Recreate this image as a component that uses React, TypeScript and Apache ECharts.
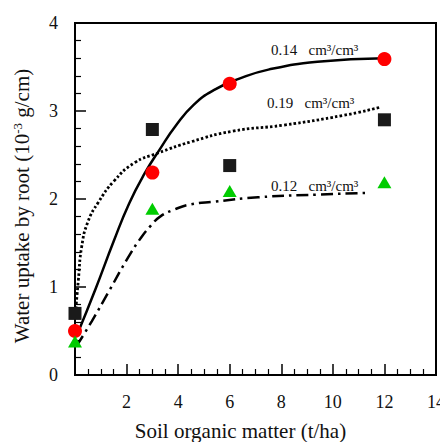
import React, { useEffect, useRef } from "react";
import * as echarts from "echarts";

// measured points
const xPts = [0, 3, 6, 12];
const red014 = [0.5, 2.3, 3.31, 3.59];
const sq019 = [0.7, 2.79, 2.38, 2.9];
const tri012 = [0.38, 1.89, 2.09, 2.19];

// fitted curves
const c014X = [0.1, 0.8, 1.5, 2.1, 2.7, 3.3, 3.9, 4.6, 5.4, 6.4, 7.5, 9.4, 12];
const c014Y = [0.47, 0.98, 1.52, 1.95, 2.29, 2.57, 2.83, 3.07, 3.24, 3.37, 3.47, 3.56, 3.6];
const c019X = [0.02, 0.13, 0.26, 0.5, 0.9, 1.5, 2.3, 3.2, 4.5, 6.1, 8.1, 10.4, 11.8];
const c019Y = [0.7, 1.08, 1.46, 1.74, 1.96, 2.2, 2.41, 2.52, 2.65, 2.77, 2.84, 2.95, 3.04];
const c012X = [0.06, 0.65, 1.35, 2.05, 2.56, 2.95, 3.3, 3.85, 4.5, 5.4, 7.1, 9.4, 11.4];
const c012Y = [0.33, 0.61, 0.97, 1.33, 1.56, 1.7, 1.8, 1.88, 1.94, 1.97, 2.02, 2.05, 2.07];

const curveLabels = ["0.14   cm³/cm³", "0.19   cm³/cm³", "0.12   cm³/cm³"];

const FONT = "'Liberation Serif', 'Times New Roman', serif";

const zip = (xs: number[], ys: number[]) => xs.map((x, i) => [x, ys[i]]);

export default function App() {
  const ref = useRef<HTMLDivElement>(null);
  useEffect(() => {
    if (!ref.current) return;
    const chart = echarts.init(ref.current, undefined, { renderer: "svg" });
    const lineBase = { type: "line", smooth: 0.5, symbol: "none", silent: true, z: 2 };
    const labelStyle = (t: string) => ({ text: t, font: `15px ${FONT}`, fill: "#111", verticalAlign: "middle" });
    chart.setOption({
      animation: false,
      backgroundColor: "#ffffff",
      grid: {
        left: 75, right: 4, top: 23, bottom: 67,
        outerBoundsMode: "none", containLabel: false,
        show: true, borderColor: "#000", borderWidth: 2, backgroundColor: "transparent",
      },
      xAxis: {
        type: "value",
        min: 0,
        max: 14,
        interval: 2,
        name: "Soil organic matter (t/ha)",
        nameLocation: "middle",
        nameGap: 45,
        nameTextStyle: { fontFamily: FONT, fontSize: 21, color: "#111", padding: [0, 30, 0, 0] },
        axisLine: { lineStyle: { color: "#000", width: 2 } },
        axisTick: { inside: true, length: 11, lineStyle: { color: "#000", width: 1.5 } },
        minorTick: { show: true, splitNumber: 4, length: 6, lineStyle: { color: "#000", width: 1.2 } },
        axisLabel: { showMinLabel: false, showMaxLabel: true, hideOverlap: false, margin: 18, fontFamily: FONT, fontSize: 18, color: "#111" },
        splitLine: { show: false },
      },
      yAxis: {
        type: "value",
        min: 0,
        max: 4,
        interval: 1,
        name: "Water uptake by root (10{sup|-3} g/cm)",
        nameLocation: "middle",
        nameGap: 43,
        nameTextStyle: {
          fontFamily: FONT,
          fontSize: 21,
          color: "#111",
          padding: [0, 14, 0, 0],
          rich: { sup: { fontFamily: FONT, fontSize: 13, verticalAlign: "top", color: "#111" } },
        },
        axisLine: { lineStyle: { color: "#000", width: 2 } },
        axisTick: { inside: true, length: 11, lineStyle: { color: "#000", width: 1.5 } },
        minorTick: { show: true, splitNumber: 5, length: 6, lineStyle: { color: "#000", width: 1.2 } },
        axisLabel: { margin: 17, fontFamily: FONT, fontSize: 18, color: "#111" },
        splitLine: { show: false },
      },
      graphic: [
        { type: "text", x: 271, y: 50, z: 10, style: labelStyle(curveLabels[0]) },
        { type: "text", x: 267, y: 103, z: 10, style: labelStyle(curveLabels[1]) },
        { type: "text", x: 271, y: 186, z: 10, style: labelStyle(curveLabels[2]) },
      ],
      series: [
        { ...lineBase, name: "c014", data: zip(c014X, c014Y), lineStyle: { color: "#000", width: 2.5 } },
        { ...lineBase, name: "c019", data: zip(c019X, c019Y), lineStyle: { color: "#000", width: 2.8, type: [2.5, 2.2] } },
        { ...lineBase, name: "c012", data: zip(c012X, c012Y), lineStyle: { color: "#000", width: 2.5, type: [12, 5, 2.5, 5] } },
        { type: "scatter", name: "0.14", data: zip(xPts, red014), symbol: "circle", symbolSize: 14, itemStyle: { color: "#ff0000", opacity: 1 }, z: 5, clip: false },
        { type: "scatter", name: "0.19", data: zip(xPts, sq019), symbol: "rect", symbolSize: 13, itemStyle: { color: "#1a1a1a", opacity: 1 }, z: 5, clip: false },
        { type: "scatter", name: "0.12", data: zip(xPts, tri012), symbol: "triangle", symbolSize: [14, 12], itemStyle: { color: "#00cc00", opacity: 1 }, z: 5, clip: false },
      ],
    });
    return () => chart.dispose();
  }, []);
  return <div ref={ref} style={{ position: "absolute", left: 0, top: 0, width: 440, height: 442 }} />;
}
